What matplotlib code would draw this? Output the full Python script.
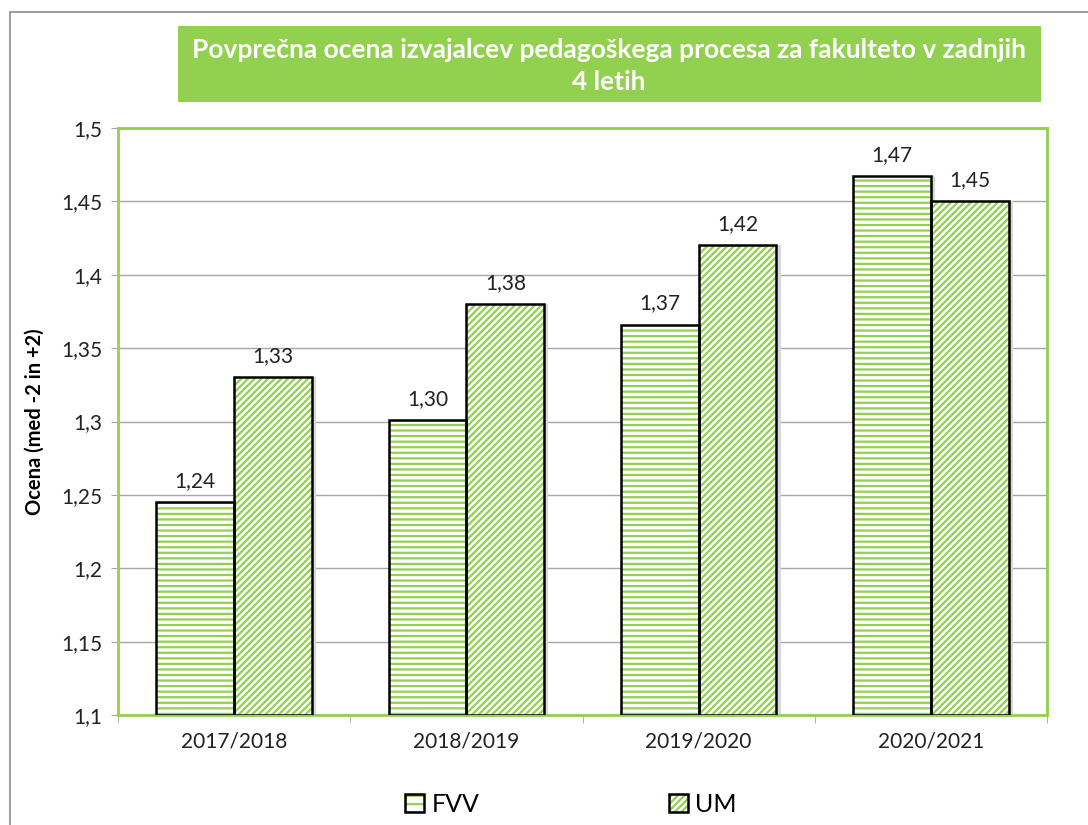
import matplotlib.pyplot as plt
from matplotlib.patches import Rectangle
import numpy as np

# podatki
leta = ["2017/2018", "2018/2019", "2019/2020", "2020/2021"]
fvv = [1.245, 1.301, 1.366, 1.467]
um = [1.33, 1.38, 1.42, 1.45]
fvv_oznake = ["1,24", "1,30", "1,37", "1,47"]
um_oznake = ["1,33", "1,38", "1,42", "1,45"]
y_ticks = [1.1, 1.15, 1.2, 1.25, 1.3, 1.35, 1.4, 1.45, 1.5]
y_tick_labels = ["1,1", "1,15", "1,2", "1,25", "1,3", "1,35", "1,4", "1,45", "1,5"]

ZELENA = "#92D050"
SIVA = "#a6a6a6"
BAR_W = 0.335
SENCA = 0.018

plt.rcParams["font.family"] = ["Lato", "DejaVu Sans"]
plt.rcParams["hatch.linewidth"] = 1.6

fig = plt.figure(figsize=(10.88, 8.25), dpi=100)

# zunanji okvir
fig.patches.append(Rectangle((10 / 1088, -0.1), 1.2, 1 - 12 / 825 + 0.1,
                             transform=fig.transFigure, fill=False,
                             edgecolor="#8c8c8c", linewidth=1.2))

ax = fig.add_axes([118 / 1088, 1 - 715 / 825, 929 / 1088, 587 / 825])

x = np.arange(len(leta))
x1 = x - BAR_W / 2
x2 = x + BAR_W / 2

# sence
ax.bar(x1 + SENCA, np.array(fvv) - 1.1, BAR_W, bottom=1.1, color="#d9d9d9", zorder=2, linewidth=0)
ax.bar(x2 + SENCA, np.array(um) - 1.1, BAR_W, bottom=1.1, color="#d9d9d9", zorder=2, linewidth=0)

# FVV - vodoravne črte
ax.bar(x1, np.array(fvv) - 1.1, BAR_W, bottom=1.1, facecolor="white", edgecolor=ZELENA,
       hatch="---", linewidth=0, zorder=3)
ax.bar(x1, np.array(fvv) - 1.1, BAR_W, bottom=1.1, fill=False, edgecolor="black",
       linewidth=1.8, zorder=4)
# UM - poševne črte
ax.bar(x2, np.array(um) - 1.1, BAR_W, bottom=1.1, facecolor="white", edgecolor=ZELENA,
       hatch="/////", linewidth=0, zorder=3)
ax.bar(x2, np.array(um) - 1.1, BAR_W, bottom=1.1, fill=False, edgecolor="black",
       linewidth=1.8, zorder=4)

for xi, v, t in zip(x1, fvv, fvv_oznake):
    ax.annotate(t, (xi, v), xytext=(0, 8), textcoords="offset points",
                ha="center", va="bottom", fontsize=15, color="#222222")
for xi, v, t in zip(x2, um, um_oznake):
    ax.annotate(t, (xi, v), xytext=(0, 8), textcoords="offset points",
                ha="center", va="bottom", fontsize=15, color="#222222")

ax.set_xlim(-0.5, len(leta) - 0.5)
ax.set_ylim(1.1, 1.5)
ax.set_yticks(y_ticks)
ax.set_yticklabels(y_tick_labels, fontsize=15, color="#222222")
ax.set_xticks(x)
ax.set_xticklabels(leta, fontsize=15, color="#222222")
ax.set_xticks(np.arange(-0.5, len(leta)), minor=True)
ax.tick_params(axis="x", which="major", length=0, pad=12)
ax.tick_params(axis="x", which="minor", length=6, color=SIVA, direction="out")
ax.tick_params(axis="y", length=5, color=SIVA, pad=6)
ax.yaxis.grid(True, color=SIVA, linewidth=1, zorder=0)
ax.set_axisbelow(True)
for s in ax.spines.values():
    s.set_color(ZELENA)
    s.set_linewidth(2)

ax.set_ylabel("Ocena (med -2 in +2)", fontsize=14.5, fontweight="bold", labelpad=12)

# naslov
fig.patches.append(Rectangle((178 / 1088, 1 - 102 / 825), 863 / 1088, 76 / 825,
                             transform=fig.transFigure, facecolor=ZELENA, edgecolor="none"))
fig.text(609 / 1088, 1 - 66 / 825,
         "Povprečna ocena izvajalcev pedagoškega procesa za fakulteto v zadnjih\n4 letih",
         ha="center", va="center", color="white", fontsize=19, fontweight="bold",
         linespacing=1.4)

# legenda
h1 = (Rectangle((0, 0), 1, 1, facecolor="white", edgecolor=ZELENA, hatch="--", linewidth=0),
      Rectangle((0, 0), 1, 1, fill=False, edgecolor="black", linewidth=1.8))
h2 = (Rectangle((0, 0), 1, 1, facecolor="white", edgecolor=ZELENA, hatch="/////", linewidth=0),
      Rectangle((0, 0), 1, 1, fill=False, edgecolor="black", linewidth=1.8))
leg = fig.legend([h1, h2], ["FVV", "UM"], loc="center", bbox_to_anchor=(571 / 1088, 1 - 804 / 825),
                 ncol=2, frameon=False, fontsize=18, handlelength=0.75, handleheight=0.75,
                 handletextpad=0.3, columnspacing=7.6)

fig.savefig("out.png", dpi=100)
